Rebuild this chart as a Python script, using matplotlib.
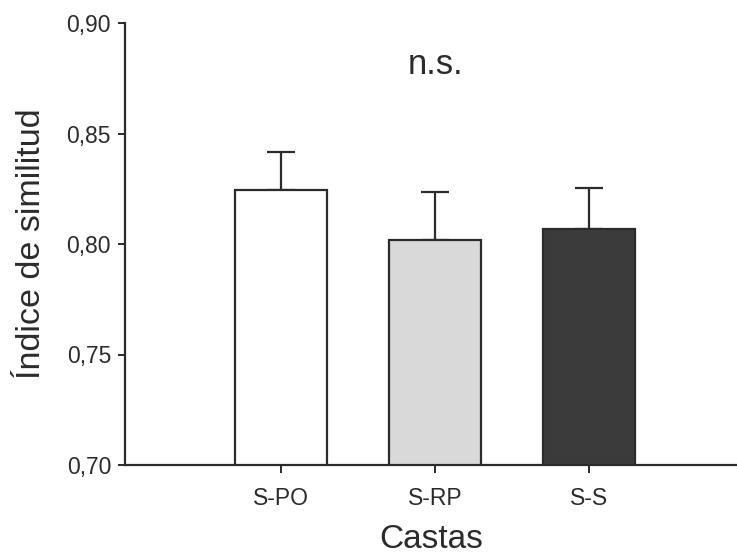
import matplotlib.pyplot as plt
import numpy as np

# values
castas = ["S-PO", "S-RP", "S-S"]
indice = [0.8246, 0.8020, 0.8067]
error = [0.0172, 0.0215, 0.0188]
colores = ["#ffffff", "#d9d9d9", "#3b3b3b"]
yticks = [0.70, 0.75, 0.80, 0.85, 0.90]

plt.rcParams['font.family'] = ['Liberation Sans', 'DejaVu Sans']
ink = "#2b2b2b"

fig = plt.figure(figsize=(7.37, 5.56), dpi=100)
ax = fig.add_axes([125 / 737, 1 - 465 / 556, 1 - 125 / 737, (465 - 23) / 556])

x = np.arange(len(castas))
ax.bar(x, indice, width=0.6, color=colores, edgecolor=ink, linewidth=1.6,
       bottom=0, zorder=2)
ax.errorbar(x, indice, yerr=[np.zeros(len(error)), error], fmt="none",
            ecolor=ink, elinewidth=1.6, capsize=10, capthick=1.6, zorder=1)

ax.set_ylim(0.70, 0.90)
ax.set_xlim(-1.013, 2.96)
ax.set_yticks(yticks)
ax.set_yticklabels([f"{v:.2f}".replace(".", ",") for v in yticks])
ax.set_xticks(x)
ax.set_xticklabels(castas)

for s in ["top", "right"]:
    ax.spines[s].set_visible(False)
for s in ["left", "bottom"]:
    ax.spines[s].set_color(ink)
    ax.spines[s].set_linewidth(1.6)

ax.tick_params(axis="y", length=5, width=1.4, color=ink, labelsize=16.5,
               labelcolor=ink, pad=5)
ax.tick_params(axis="x", length=6, width=1.4, color=ink, labelsize=16.5,
               labelcolor=ink, pad=10)

ax.set_xlabel("Castas", fontsize=24, color=ink, labelpad=10)
ax.set_ylabel("Índice de similitud", fontsize=24.5, color=ink, labelpad=14)

ax.text(1, 0.881, "n.s.", ha="center", va="center", fontsize=25, color=ink)

fig.savefig("out.png", dpi=100)
